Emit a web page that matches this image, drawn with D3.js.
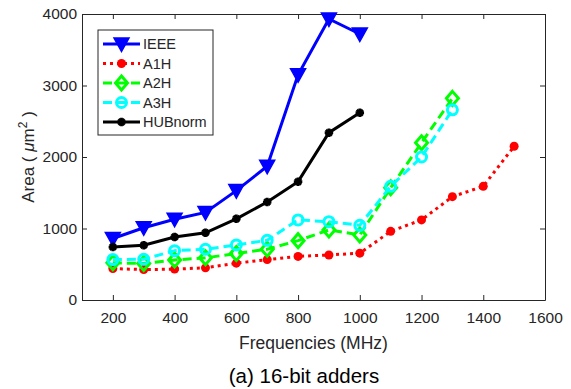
<!DOCTYPE html>
<html>
<head>
<meta charset="utf-8">
<script src="https://cdn.jsdelivr.net/npm/d3@7"></script>
<style>
  body { margin: 0; background: #fff; }
  svg text { font-family: "Liberation Sans", Arial, sans-serif; fill: #262626; }
</style>
</head>
<body>
<div id="chart"></div>
<script>
// Frequencies (MHz) and areas (um^2)
var freqs = [200, 300, 400, 500, 600, 700, 800, 900, 1000, 1100, 1200, 1300, 1400, 1500];
var ieee = [860, 1010, 1130, 1225, 1530, 1870, 3150, 3930, 3720];
var a1h = [440, 425, 432, 450, 515, 565, 610, 630, 655, 960, 1120, 1445, 1590, 2150];
var a2h = [520, 510, 560, 590, 650, 710, 830, 980, 910, 1570, 2200, 2820];
var a3h = [565, 570, 690, 710, 770, 835, 1120, 1095, 1045, 1590, 2000, 2660];
var hub = [740, 765, 880, 940, 1135, 1370, 1655, 2340, 2620];
var xTicks = [200, 400, 600, 800, 1000, 1200, 1400, 1600];
var yTicks = [0, 1000, 2000, 3000, 4000];

var svgWidth = 571;
var svgHeight = 389;
var margin = { top: 14, right: 26, bottom: 89, left: 82 };
var width = svgWidth - margin.left - margin.right;
var height = svgHeight - margin.top - margin.bottom;

var svg = d3.select("#chart").append("svg")
    .attr("width", svgWidth)
    .attr("height", svgHeight);

var chartGroup = svg.append("g")
    .attr("transform", `translate(${margin.left}, ${margin.top})`);

var x = d3.scaleLinear().domain([100, 1600]).range([0, width]);
var y = d3.scaleLinear().domain([0, 4000]).range([height, 0]);

// axes (box style, ticks pointing in)
var axisColor = "#262626";
function styleAxis(g) {
    g.selectAll("path").attr("stroke", axisColor).attr("stroke-width", 1);
    g.selectAll("line").attr("stroke", axisColor);
    g.selectAll("text").style("font-size", "15.5px").attr("fill", axisColor);
}
chartGroup.append("g")
    .attr("transform", `translate(0, ${height})`)
    .call(d3.axisBottom(x).tickValues(xTicks).tickFormat(d3.format("d")).tickSize(-5).tickSizeOuter(0).tickPadding(12))
    .call(styleAxis);
chartGroup.append("g")
    .call(d3.axisTop(x).tickValues(xTicks).tickSize(-5).tickSizeOuter(0).tickFormat(""))
    .call(styleAxis);
chartGroup.append("g")
    .call(d3.axisLeft(y).tickValues(yTicks).tickFormat(d3.format("d")).tickSize(-5).tickSizeOuter(0).tickPadding(5))
    .call(styleAxis);
chartGroup.append("g")
    .attr("transform", `translate(${width}, 0)`)
    .call(d3.axisRight(y).tickValues(yTicks).tickSize(-5).tickSizeOuter(0).tickFormat(""))
    .call(styleAxis);

var series = [
    { name: "IEEE", vals: ieee, color: "#0000ff", dash: null, marker: "tri" },
    { name: "A1H", vals: a1h, color: "#ff0000", dash: "3,4", marker: "dot" },
    { name: "A2H", vals: a2h, color: "#00ff00", dash: "9,5", marker: "diamond" },
    { name: "A3H", vals: a3h, color: "#00ffff", dash: "9,5", marker: "circle" },
    { name: "HUBnorm", vals: hub, color: "#000000", dash: null, marker: "star" }
];

var line = d3.line().x(d => x(d.f)).y(d => y(d.v));

function drawMarker(g, type, color) {
    if (type === "tri") {
        g.append("path").attr("d", "M-7.5,-6 L7.5,-6 L0,7.5 Z").attr("fill", color).attr("stroke", color).attr("stroke-width", 1.5);
    } else if (type === "dot") {
        g.append("circle").attr("r", 4.5).attr("fill", color);
    } else if (type === "diamond") {
        g.append("path").attr("d", "M0,-7 L6,0 L0,7 L-6,0 Z").attr("fill", "none").attr("stroke", color).attr("stroke-width", 3);
    } else if (type === "circle") {
        g.append("circle").attr("r", 5).attr("fill", "none").attr("stroke", color).attr("stroke-width", 3);
    } else if (type === "star") {
        var cross = d3.symbol().type(d3.symbolCross).size(40)();
        g.append("path").attr("d", cross).attr("fill", color);
        g.append("path").attr("d", cross).attr("fill", color).attr("transform", "rotate(45)");
    }
}

series.forEach(function (s) {
    var pts = s.vals.map((v, i) => ({ f: freqs[i], v: v }));
    chartGroup.append("path")
        .datum(pts)
        .attr("fill", "none")
        .attr("stroke", s.color)
        .attr("stroke-width", 3)
        .attr("stroke-dasharray", s.dash)
        .attr("d", line);
    pts.forEach(function (p) {
        var g = chartGroup.append("g").attr("transform", `translate(${x(p.f)}, ${y(p.v)})`);
        drawMarker(g, s.marker, s.color);
    });
});

// legend
var legend = svg.append("g").attr("transform", "translate(98, 30)");
legend.append("rect")
    .attr("width", 115).attr("height", 105)
    .attr("fill", "#fff").attr("stroke", "#262626").attr("stroke-width", 1);
series.forEach(function (s, i) {
    var ly = 14 + i * 19.5;
    legend.append("line")
        .attr("x1", 5).attr("x2", 42).attr("y1", ly).attr("y2", ly)
        .attr("stroke", s.color).attr("stroke-width", 3)
        .attr("stroke-dasharray", s.dash);
    var g = legend.append("g").attr("transform", `translate(23.5, ${ly})`);
    drawMarker(g, s.marker, s.color);
    legend.append("text")
        .attr("x", 45).attr("y", ly + 5)
        .style("font-size", "14.5px")
        .text(s.name);
});

// axis labels
var yl = svg.append("text")
    .attr("transform", `translate(34, ${margin.top + height / 2}) rotate(-90)`)
    .attr("text-anchor", "middle")
    .style("font-size", "17px");
yl.append("tspan").text("Area ( ");
yl.append("tspan").style("font-style", "italic").text("\u03bc");
yl.append("tspan").text("m");
yl.append("tspan").attr("dy", -7).style("font-size", "12px").text("2");
yl.append("tspan").attr("dy", 7).text(" )");

svg.append("text")
    .attr("x", margin.left + width / 2).attr("y", 349)
    .attr("text-anchor", "middle")
    .style("font-size", "17.5px")
    .text("Frequencies (MHz)");

svg.append("text")
    .attr("x", 304).attr("y", 383)
    .attr("text-anchor", "middle")
    .style("font-size", "20.5px")
    .style("fill", "#000")
    .text("(a) 16-bit adders");
</script>
</body>
</html>
